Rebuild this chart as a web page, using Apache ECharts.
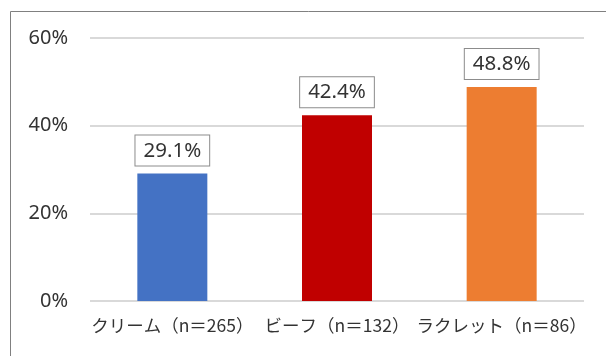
<!DOCTYPE html>
<html><head><meta charset="utf-8">
<script src="https://cdn.jsdelivr.net/npm/echarts@6/dist/echarts.min.js"></script>
<style>html,body{margin:0;padding:0;background:#fff}#c{width:606px;height:356px}</style>
</head><body><div id="c"></div>
<script>
const categories = ['クリーム（n＝265）', 'ビーフ（n＝132）', 'ラクレット（n＝86）'];
const values = [29.1, 42.4, 48.8];
const colors = ['#4472C4', '#C00000', '#ED7D31'];
const yTicks = { min: 0, max: 60, interval: 20 };

const chart = echarts.init(document.getElementById('c'), null, { renderer: 'canvas' });
chart.setOption({
  animation: false,
  backgroundColor: '#fff',
  graphic: [{
    type: 'rect', left: 8, top: 9, z: -1,
    shape: { width: 700, height: 500 },
    style: { fill: 'none', stroke: '#808080', lineWidth: 1 }
  }],
  grid: { left: 90, right: 22, top: 38, bottom: 55 },
  xAxis: {
    type: 'category', data: categories,
    axisLine: { show: false }, axisTick: { show: false },
    axisLabel: { interval: 0, color: '#333333', fontSize: 17.5, margin: 16,
      fontFamily: '"Noto Sans CJK JP", sans-serif' }
  },
  yAxis: {
    type: 'value', min: yTicks.min, max: yTicks.max, interval: yTicks.interval,
    axisLine: { show: false }, axisTick: { show: false },
    axisLabel: { formatter: '{value}%', color: '#333333', fontSize: 20, margin: 22,
      fontFamily: '"Noto Sans", sans-serif' },
    splitLine: { lineStyle: { color: '#D9D9D9', width: 2 } }
  },
  series: [{
    type: 'bar', barWidth: 70,
    data: values.map((v, i) => ({ value: v, itemStyle: { color: colors[i] } })),
    label: {
      show: true, position: 'top', distance: 8,
      formatter: p => p.value.toFixed(1) + '%',
      color: '#333333', fontSize: 20.5, fontFamily: '"Noto Sans", sans-serif',
      backgroundColor: '#fff', borderColor: '#8c8c8c', borderWidth: 1,
      padding: [5, 8, 4, 8]
    }
  }]
});
</script></body></html>
